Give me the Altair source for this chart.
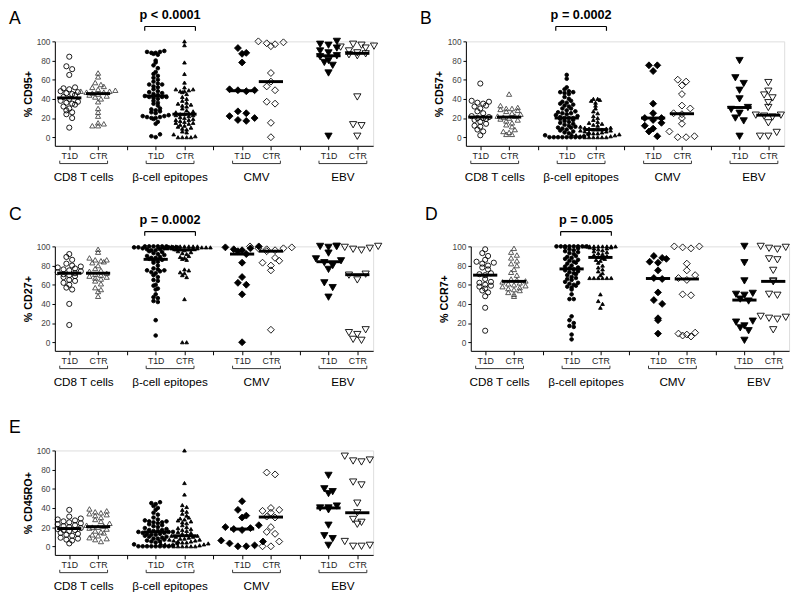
import altair as alt
import pandas as pd

FONT = "Liberation Sans"

groups = ["CD8 T cells", "β-cell epitopes", "CMV", "EBV"]
status = ["T1D", "CTR"]
panel_letters = ["A", "B", "C", "D", "E"]
panel_titles = ["% CD95+", "% CD57+", "% CD27+", "% CCR7+", "% CD45RO+"]
p_values = ["p < 0.0001", "p = 0.0002", "p = 0.0002", "p = 0.005", ""]

# ---------------- Panel A: % CD95+ ----------------
A_CD8_T1D = [84, 74, 71, 65, 52, 51, 50, 48, 47, 46, 45, 44, 42, 40, 38, 37, 36, 35, 34, 32, 30, 28, 26, 24, 20, 10]
A_CD8_CTR = [67, 63, 57, 55, 53, 52, 50, 49, 48, 48, 47, 47, 46, 45, 44, 43, 42, 40, 37, 30, 26, 22, 15, 14, 12, 12]
A_BETA_T1D = [90, 89, 89, 88, 88, 87, 86, 80, 78, 75, 72, 68, 66, 64, 62, 60, 58, 56, 55, 55, 53, 52, 50, 48, 47, 46,
              45, 44, 43, 42, 42, 42, 41, 40, 38, 36, 35, 33, 30, 29, 28, 27, 26, 25, 23, 22, 22, 21, 21, 20, 20, 19,
              16, 14, 3, 1, 0]
A_BETA_CTR = [100, 96, 78, 66, 57, 52, 50, 50, 49, 48, 48, 47, 45, 42, 40, 38, 36, 35, 34, 33, 32, 30, 28, 27, 26, 25,
              24, 24, 23, 23, 22, 21, 20, 19, 18, 18, 17, 16, 15, 15, 14, 13, 12, 11, 10, 9, 8, 6, 5, 3, 1, 0, 0, 0, 0]
A_CMV_T1D = [93, 88, 87, 78, 50, 49, 49, 48, 27, 25, 22, 20, 18, 17]
A_CMV_CTR = [100, 99, 98, 97, 95, 67, 58, 53, 49, 37, 35, 15, 0]
A_EBV_T1D = [100, 97, 96, 93, 90, 88, 85, 84, 80, 78, 75, 67, 1]
A_EBV_CTR = [97, 96, 95, 94, 93, 90, 88, 87, 86, 85, 42, 13, 12, 1]

# ---------------- Panel B: % CD57+ ----------------
B_CD8_T1D = [56, 38, 37, 36, 35, 33, 32, 30, 27, 25, 22, 21, 20, 20, 19, 18, 16, 14, 12, 11, 8, 6, 2]
B_CD8_CTR = [45, 33, 31, 30, 30, 29, 28, 27, 25, 24, 22, 22, 21, 20, 19, 18, 17, 15, 13, 11, 8, 6, 5, 3, 3]
B_BETA_T1D = [65, 61, 52, 50, 48, 47, 47, 46, 45, 42, 40, 38, 37, 36, 35, 34, 33, 32, 30, 30, 28, 27, 26, 25, 25, 24,
              23, 22, 21, 20, 20, 20, 19, 18, 17, 16, 15, 14, 13, 12, 11, 10, 10, 9, 8, 7, 6, 5, 4, 3, 2, 1,
              0, 0, 0, 0, 0, 0, 0, 0]
B_BETA_CTR = [40, 40, 39, 38, 36, 33, 30, 27, 25, 22, 20, 18, 16, 15, 14, 13, 12, 11, 10, 10, 9, 9, 8, 8, 8, 7, 7, 6,
              6, 5, 5, 4, 4, 3, 3, 2, 2, 1, 1, 0, 0, 0, 0, 0, 0]
B_CMV_T1D = [75, 75, 69, 35, 25, 20, 20, 18, 15, 12, 9, 6, 1]
B_CMV_CTR = [60, 58, 54, 45, 33, 30, 25, 24, 20, 14, 6, 1, 0, 0]
B_EBV_T1D = [80, 62, 56, 49, 40, 31, 29, 25, 20, 17, 1]
B_EBV_CTR = [57, 48, 44, 41, 36, 31, 23, 23, 22, 21, 15, 5, 1, 1]

# ---------------- Panel C: % CD27+ ----------------
C_CD8_T1D = [92, 89, 86, 82, 80, 79, 78, 77, 76, 75, 74, 73, 72, 71, 70, 69, 68, 65, 64, 62, 60, 57, 55, 40, 18]
C_CD8_CTR = [97, 94, 88, 86, 86, 85, 84, 83, 80, 77, 75, 74, 72, 71, 70, 69, 68, 67, 66, 64, 61, 57, 55, 53, 48]
C_BETA_T1D = [100, 100, 100, 100, 100, 100, 99, 99, 99, 99, 99, 98, 98, 97, 97, 96, 96, 95, 94, 93, 92, 91, 90, 89,
              88, 88, 87, 86, 85, 84, 83, 80, 77, 76, 75, 75, 74, 73, 72, 70, 68, 65, 64, 60, 59, 56, 55, 50, 47, 46,
              43, 42, 23, 7]
C_BETA_CTR = [100, 100, 100, 100, 100, 100, 100, 99, 99, 99, 99, 99, 98, 98, 98, 98, 97, 97, 97, 96, 95, 94, 93, 92,
              90, 89, 88, 87, 86, 76, 75, 73, 72, 70, 68, 45, 0, 0]
C_CMV_T1D = [100, 99, 98, 97, 96, 95, 92, 83, 68, 62, 60, 50, 0]
C_CMV_CTR = [100, 99, 98, 98, 97, 96, 95, 88, 85, 83, 80, 75, 13]
C_EBV_T1D = [100, 100, 99, 93, 87, 85, 83, 80, 76, 62, 57, 47]
C_EBV_CTR = [100, 100, 99, 98, 97, 96, 71, 70, 65, 13, 10, 8, 3, 2]

# ---------------- Panel D: % CCR7+ ----------------
D_CD8_T1D = [97, 93, 90, 86, 84, 83, 82, 80, 78, 76, 72, 71, 70, 66, 63, 62, 60, 59, 58, 56, 54, 52, 48, 36, 12]
D_CD8_CTR = [98, 94, 91, 88, 85, 82, 80, 76, 73, 70, 66, 65, 64, 63, 62, 61, 60, 59, 58, 57, 56, 55, 54, 52, 50, 48]
D_BETA_T1D = [100, 100, 100, 100, 100, 100, 100, 100, 99, 98, 97, 96, 95, 94, 93, 92, 90, 89, 88, 87, 86, 85, 84, 83,
              82, 80, 79, 78, 77, 76, 75, 74, 73, 72, 71, 70, 68, 67, 66, 65, 63, 62, 61, 60, 59, 58, 57, 55, 50, 45,
              45, 27, 23, 20, 17, 16, 8, 3]
D_BETA_CTR = [100, 100, 100, 100, 100, 100, 100, 100, 99, 99, 98, 98, 97, 96, 95, 94, 93, 92, 91, 90, 89, 88, 87, 86,
              85, 83, 80, 78, 76, 74, 72, 70, 67, 67, 67, 67, 67, 67, 50, 43, 40, 36]
D_CMV_T1D = [90, 88, 87, 84, 83, 75, 67, 66, 52, 44, 40, 25, 23, 9]
D_CMV_CTR = [100, 100, 99, 98, 82, 75, 70, 67, 65, 50, 49, 10, 9, 8, 7, 6]
D_EBV_T1D = [100, 83, 64, 51, 50, 49, 45, 43, 22, 21, 17, 15, 12, 2]
D_EBV_CTR = [100, 99, 98, 97, 87, 86, 75, 64, 63, 50, 49, 27, 26, 25, 24, 13]

# ---------------- Panel E: % CD45RO+ ----------------
E_CD8_T1D = [38, 31, 29, 28, 27, 26, 25, 24, 23, 22, 21, 20, 19, 18, 17, 17, 16, 14, 13, 12, 11, 9, 8, 7, 6, 3]
E_CD8_CTR = [39, 37, 36, 35, 34, 33, 32, 30, 28, 26, 24, 22, 21, 20, 20, 19, 18, 16, 15, 14, 12, 11, 9, 8, 7, 5]
E_BETA_T1D = [46, 45, 44, 42, 40, 38, 35, 33, 30, 28, 27, 26, 26, 25, 25, 24, 23, 22, 21, 20, 19, 18, 17, 17, 16, 16,
              15, 15, 15, 14, 14, 13, 13, 12, 12, 11, 10, 10, 9, 8, 8, 7, 6, 5, 5, 4, 3, 2, 1,
              0, 0, 0, 0, 0, 0, 0, 0]
E_BETA_CTR = [100, 66, 54, 43, 41, 38, 36, 34, 32, 30, 29, 28, 27, 26, 25, 24, 22, 20, 19, 18, 17, 16, 15, 14, 13, 12,
              11, 11, 10, 10, 9, 8, 8, 7, 7, 6, 6, 5, 5, 4, 4, 3, 3, 2, 2, 1, 1, 0, 0, 0, 0, 0, 0]
E_CMV_T1D = [47, 38, 32, 30, 22, 20, 19, 18, 17, 6, 5, 3, 1, 0, 0]
E_CMV_CTR = [77, 75, 40, 38, 37, 35, 31, 30, 20, 15, 13, 5, 0, 0]
E_EBV_T1D = [74, 60, 57, 55, 42, 40, 40, 38, 22, 11, 8, 1]
E_EBV_CTR = [94, 90, 89, 88, 67, 64, 45, 35, 28, 25, 23, 5, 1, 0, 0]

panel_series = {
    "A": [A_CD8_T1D, A_CD8_CTR, A_BETA_T1D, A_BETA_CTR, A_CMV_T1D, A_CMV_CTR, A_EBV_T1D, A_EBV_CTR],
    "B": [B_CD8_T1D, B_CD8_CTR, B_BETA_T1D, B_BETA_CTR, B_CMV_T1D, B_CMV_CTR, B_EBV_T1D, B_EBV_CTR],
    "C": [C_CD8_T1D, C_CD8_CTR, C_BETA_T1D, C_BETA_CTR, C_CMV_T1D, C_CMV_CTR, C_EBV_T1D, C_EBV_CTR],
    "D": [D_CD8_T1D, D_CD8_CTR, D_BETA_T1D, D_BETA_CTR, D_CMV_T1D, D_CMV_CTR, D_EBV_T1D, D_EBV_CTR],
    "E": [E_CD8_T1D, E_CD8_CTR, E_BETA_T1D, E_BETA_CTR, E_CMV_T1D, E_CMV_CTR, E_EBV_T1D, E_EBV_CTR],
}

rows = []
for p, series in panel_series.items():
    for i, vals in enumerate(series):
        g, s = divmod(i, 2)
        for v in vals:
            rows.append({"panel": p, "g": g, "s": s, "key": f"{g}{s}", "col": g * 3 + 1 + s, "v": v})
df = pd.DataFrame(rows)

group_df = pd.DataFrame({"label": groups, "c": [i * 3 + 1.5 for i in range(len(groups))]})

# ---------------- styles ----------------
keys = ["00", "01", "10", "11", "20", "21", "30", "31"]
shapes = ["circle", "triangle-up", "circle", "triangle-up", "diamond", "diamond", "triangle-down", "triangle-down"]
fills = ["transparent", "transparent", "black", "black", "black", "transparent", "black", "transparent"]
strokes = ["black", "#444444", "black", "black", "black", "black", "black", "black"]
sizes = [28, 28, 14, 14, 50, 50, 55, 55]

xsc = alt.Scale(domain=[0.5, 11.55], nice=False, zero=False)
ysc = alt.Scale(domain=[-9, 100], nice=False, zero=False)

xaxis = alt.Axis(values=list(range(1, 12)),
                 labelExpr="datum.value % 3 == 0 ? '' : (datum.value % 3 == 1 ? 'T1D' : 'CTR')",
                 labelFontSize=9, labelColor="#222222", labelFont=FONT, tickSize=4, grid=False,
                 labelOverlap=False, labelPadding=2, labelFlush=False, title=None,
                 domainColor="black", tickColor="black")


def yaxis(title):
    return alt.Axis(values=[0, 20, 40, 60, 80, 100], title=title, titleFontSize=11, titleFontWeight="bold",
                    titleColor="black", titleFont=FONT, labelFont=FONT, labelFontSize=8.5, labelColor="#444444",
                    tickSize=3, tickColor="black", domainColor="black", grid=False, titlePadding=3,
                    labelPadding=2)


def panel(idx, letter_dy):
    key = panel_letters[idx]
    d = df[df.panel == key]
    ya = yaxis(panel_titles[idx])

    pts = alt.Chart(d).transform_calculate(
        bw="datum.g == 0 ? 5 : (datum.g == 1 ? 4 : 8)",
        sp="datum.g == 0 ? 0.2 : (datum.g == 1 ? 0.15 : 0.29)",
    ).transform_calculate(
        b="floor(datum.v / datum.bw)"
    ).transform_joinaggregate(
        cnt="count()", groupby=["col", "b"]
    ).transform_window(
        r="row_number()", groupby=["col", "b"], sort=[alt.SortField("v", order="ascending")]
    ).transform_calculate(
        k="datum.r - 1"
    ).transform_calculate(
        slot="(datum.k % 2 == 0 ? datum.k / 2 : -(datum.k + 1) / 2) + (datum.cnt % 2 == 0 ? 0.5 : 0)"
    ).transform_calculate(
        xpos="datum.col + datum.slot * datum.sp"
    ).mark_point(filled=True, strokeWidth=0.9, opacity=1).encode(
        x=alt.X("xpos:Q", scale=xsc, axis=xaxis),
        y=alt.Y("v:Q", scale=ysc, axis=ya),
        shape=alt.Shape("key:N", scale=alt.Scale(domain=keys, range=shapes), legend=None),
        fill=alt.Fill("key:N", scale=alt.Scale(domain=keys, range=fills), legend=None),
        stroke=alt.Stroke("key:N", scale=alt.Scale(domain=keys, range=strokes), legend=None),
        size=alt.Size("key:N", scale=alt.Scale(type="ordinal", domain=keys, range=sizes), legend=None),
    )

    med = alt.Chart(d).transform_aggregate(
        m="median(v)", groupby=["col"]
    ).transform_calculate(
        x1="datum.col - 0.42", x2="datum.col + 0.42"
    ).mark_rule(strokeWidth=3, color="black").encode(
        x=alt.X("x1:Q", scale=xsc, axis=xaxis), x2="x2:Q",
        y=alt.Y("m:Q", scale=ysc, axis=ya),
    )

    gbase = alt.Chart(group_df).transform_calculate(
        xl="datum.c - 0.83", xr="datum.c + 0.83", yb="-27.5", yt="-24.5", yl="-42"
    )
    gbr = gbase.mark_rule(strokeWidth=1, color="#333333").encode(
        x=alt.X("xl:Q", scale=xsc, axis=xaxis), x2="xr:Q", y=alt.Y("yb:Q", scale=ysc, axis=ya))
    gends = gbase.transform_fold(["xl", "xr"]).mark_rule(strokeWidth=1, color="#333333").encode(
        x=alt.X("value:Q", scale=xsc, axis=xaxis), y=alt.Y("yb:Q", scale=ysc, axis=ya), y2="yt:Q")
    glab = gbase.mark_text(fontSize=12, font=FONT, color="black", baseline="middle").encode(
        x=alt.X("c:Q", scale=xsc, axis=xaxis), y=alt.Y("yl:Q", scale=ysc, axis=ya), text="label:N")

    letter = alt.Chart(pd.DataFrame({"t": [key]})).mark_text(
        fontSize=18, font=FONT, align="left", baseline="top", color="black"
    ).encode(text="t:N", x=alt.value(-47), y=alt.value(letter_dy))

    layers = [pts, med, gbr, gends, glab, letter]

    if p_values[idx]:
        pdf = pd.DataFrame({"t": [p_values[idx]], "c": [group_df.c[1]]})
        pbase = alt.Chart(pdf).transform_calculate(
            xl="datum.c - 0.88", xr="datum.c + 0.88", yb="115.5", yt="111", ytx="134")
        pbr = pbase.mark_rule(strokeWidth=1.2, color="black").encode(
            x=alt.X("xl:Q", scale=xsc, axis=xaxis), x2="xr:Q", y=alt.Y("yb:Q", scale=ysc, axis=ya))
        pends = pbase.transform_fold(["xl", "xr"]).mark_rule(strokeWidth=1.2, color="black").encode(
            x=alt.X("value:Q", scale=xsc, axis=xaxis), y=alt.Y("yb:Q", scale=ysc, axis=ya), y2="yt:Q")
        ptx = pbase.mark_text(fontSize=13, fontWeight="bold", font=FONT, color="black",
                              baseline="top").encode(
            x=alt.X("c:Q", scale=xsc, axis=xaxis), y=alt.Y("ytx:Q", scale=ysc, axis=ya), text="t:N")
        layers += [pbr, pends, ptx]

    return alt.layer(*layers).properties(width=326, height=107)


pA = panel(0, -32)
pB = panel(1, -32)
pC = panel(2, -41)
pD = panel(3, -41)
pE = panel(4, -32)

row1 = alt.hconcat(pA, pB, spacing=40)
row2 = alt.hconcat(pC, pD, spacing=40)
top_rows = alt.vconcat(row1, row2, spacing=22)

chart = alt.vconcat(
    top_rows, pE, spacing=30,
    padding={"left": 0, "top": -7, "right": 0, "bottom": 0},
).configure_view(strokeWidth=0).configure(font=FONT)

chart.save("out.html", embed_options={"renderer": "svg", "actions": False})
